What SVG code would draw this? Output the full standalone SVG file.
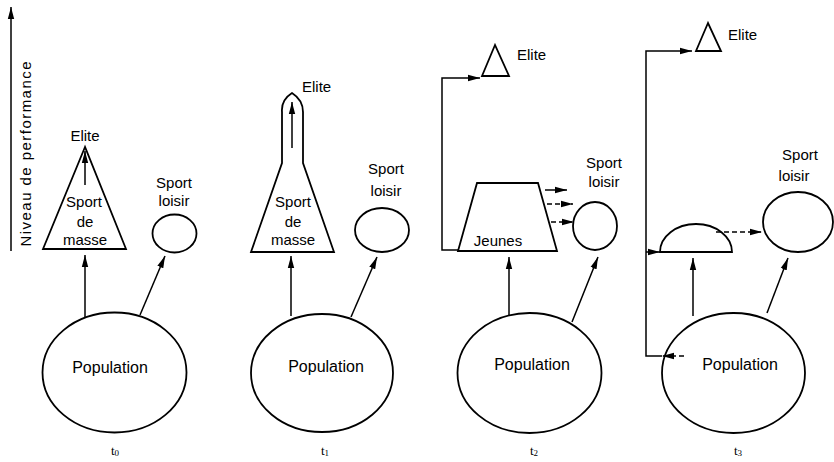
<svg xmlns="http://www.w3.org/2000/svg" width="834" height="462" viewBox="0 0 834 462">
<defs>
<marker id="ah" viewBox="0 0 12 8" refX="12" refY="4" markerWidth="12" markerHeight="8" markerUnits="userSpaceOnUse" orient="auto">
<path d="M0,0.8 L12,4 L0,7.2 Z" fill="#000"/>
</marker>
<style>
.s{fill:none;stroke:#000;stroke-width:1.8}
.c{fill:none;stroke:#000;stroke-width:1.5}
.d{fill:none;stroke:#000;stroke-width:1.5;stroke-dasharray:5 3}
.t{font-family:"Liberation Sans",Arial,sans-serif;font-size:15px;fill:#000}
.p{font-family:"Liberation Sans",Arial,sans-serif;font-size:16px;fill:#000;text-anchor:middle}
.m{text-anchor:middle}
.l{font-family:"Liberation Serif",serif;font-size:13px;fill:#000;text-anchor:middle}
</style>
</defs>
<rect width="834" height="462" fill="#fff"/>

<g id="axis">
<text class="t m" transform="translate(31,154) rotate(-90)" font-size="14" textLength="185" lengthAdjust="spacing">Niveau de performance</text>
</g>

<!-- t0 -->
<g id="t0-masse">
<polygon class="s" points="85,147 43,249 126,249"/>
<text class="t m" x="85" y="141">Elite</text>
<text class="t m" x="84" y="207">Sport</text>
<text class="t m" x="85" y="227">de</text>
<text class="t m" x="85" y="245">masse</text>
</g>
<g id="t0-loisir">
<ellipse class="s" cx="174.5" cy="233.5" rx="22" ry="19"/>
<text class="t m" x="174" y="188">Sport</text>
<text class="t m" x="174" y="206">loisir</text>
</g>
<g id="t0-population">
<ellipse class="s" cx="114.5" cy="372.5" rx="72" ry="60"/>
<text class="p" x="110" y="373">Population</text>
</g>
<g id="t0-label"><text class="l" x="115" y="455">t<tspan font-size="9" dy="1">0</tspan></text></g>

<!-- t1 -->
<g id="t1-masse">
<path class="s" d="M251,252 L334,252 L303,163 L303,112 Q303,100 292,93 Q281,100 282,112 L282,163 Z"/>
<text class="t" x="302" y="92">Elite</text>
<text class="t m" x="293" y="207">Sport</text>
<text class="t m" x="293" y="227">de</text>
<text class="t m" x="293" y="245">masse</text>
</g>
<g id="t1-loisir">
<ellipse class="s" cx="382" cy="230" rx="27" ry="22"/>
<text class="t m" x="386" y="174">Sport</text>
<text class="t m" x="386" y="196">loisir</text>
</g>
<g id="t1-population">
<ellipse class="s" cx="322" cy="373" rx="71" ry="59"/>
<text class="p" x="326" y="372">Population</text>
</g>
<g id="t1-label"><text class="l" x="325" y="455">t<tspan font-size="9" dy="1">1</tspan></text></g>

<!-- t2 -->
<g id="t2-elite">
<polygon class="s" points="495,45 482,76 509,76"/>
<text class="t" x="517" y="60">Elite</text>
</g>
<g id="t2-jeunes">
<polygon class="s" points="477,183 538,183 557,251 458,251"/>
<text class="t m" x="498" y="246">Jeunes</text>
</g>
<g id="t2-loisir">
<ellipse class="s" cx="595" cy="226" rx="22" ry="24"/>
<text class="t m" x="604" y="168">Sport</text>
<text class="t m" x="604" y="187">loisir</text>
</g>
<g id="t2-population">
<ellipse class="s" cx="529.5" cy="373" rx="72" ry="60"/>
<text class="p" x="532" y="370">Population</text>
</g>
<g id="t2-label"><text class="l" x="534" y="455">t<tspan font-size="9" dy="1">2</tspan></text></g>

<!-- t3 -->
<g id="t3-elite">
<polygon class="s" points="708,23 696,51 721,51"/>
<text class="t" x="728" y="40">Elite</text>
</g>
<g id="t3-dome">
<path class="s" d="M660,252 A36,28 0 0 1 732,252 Z"/>
</g>
<g id="t3-loisir">
<ellipse class="s" cx="798" cy="222" rx="35" ry="30"/>
<text class="t m" x="800" y="160">Sport</text>
<text class="t m" x="794" y="181">loisir</text>
</g>
<g id="t3-population">
<ellipse class="s" cx="733.5" cy="373" rx="71.5" ry="60"/>
<text class="p" x="740" y="370">Population</text>
</g>
<g id="t3-label"><text class="l" x="738" y="455">t<tspan font-size="9" dy="1">3</tspan></text></g>

<g id="connectors">
<line class="c" x1="11" y1="251" x2="11" y2="7" marker-end="url(#ah)"/>
<!-- t0 -->
<line class="c" x1="85" y1="185" x2="85" y2="151" marker-end="url(#ah)"/>
<line class="c" x1="85" y1="317" x2="85" y2="255" marker-end="url(#ah)"/>
<line class="c" x1="140" y1="315" x2="165" y2="256" marker-end="url(#ah)"/>
<!-- t1 -->
<line class="c" x1="292" y1="148" x2="292" y2="102" marker-end="url(#ah)"/>
<line class="c" x1="291" y1="316" x2="291" y2="256" marker-end="url(#ah)"/>
<line class="c" x1="351" y1="317" x2="377" y2="257" marker-end="url(#ah)"/>
<!-- t2 -->
<path class="c" d="M458,250 L442,250 L442,78 L480,78" marker-end="url(#ah)"/>
<line class="c" x1="545" y1="190" x2="567" y2="190" marker-end="url(#ah)"/>
<line class="d" x1="547" y1="204" x2="573" y2="204" marker-end="url(#ah)"/>
<line class="d" x1="551" y1="222" x2="574" y2="222" marker-end="url(#ah)"/>
<line class="c" x1="509" y1="316" x2="509" y2="257" marker-end="url(#ah)"/>
<line class="c" x1="572" y1="322" x2="598" y2="257" marker-end="url(#ah)"/>
<!-- t3 -->
<path class="c" d="M662,356 L646,356 L646,51 L692,51" marker-end="url(#ah)"/>
<line class="d" x1="684" y1="356" x2="662" y2="356" marker-end="url(#ah)"/>
<line class="c" x1="646" y1="252" x2="660" y2="252" marker-end="url(#ah)"/>
<line class="d" x1="716" y1="232" x2="762" y2="232" marker-end="url(#ah)"/>
<line class="c" x1="693" y1="316" x2="693" y2="258" marker-end="url(#ah)"/>
<line class="c" x1="767" y1="313" x2="788" y2="258" marker-end="url(#ah)"/>
</g>
</svg>
